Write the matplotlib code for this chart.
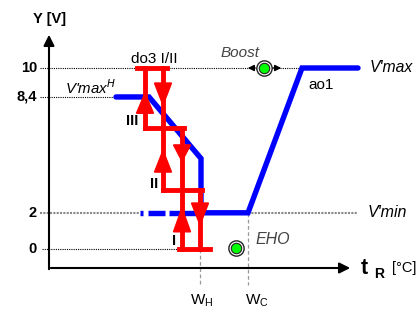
import numpy as np
import matplotlib.pyplot as plt
from matplotlib.patches import Polygon

plt.rcParams['font.family'] = ['Liberation Sans', 'DejaVu Sans']

# --- data (x: temperature axis units, y: volts) ---
w_h = 200
w_c = 248
v_max = 10
v_max_h = 8.4
v_min = 2

# blue characteristic ao1
heat_x = [116, 149, 201, 201]
heat_y = [8.4, 8.4, 5.0, 2.0]
dash_x = [[140, 143], [148, 165], [169, 201]]
cool_x = [201, 248, 302, 358]
cool_y = [2.0, 2.0, 10.0, 10.0]

# red stage switching do3 I/II (steps III, II, I)
red_segs = [
    ((137, 167), (10, 10)),
    ((145, 145), (10, 6.7)),
    ((163, 163), (10, 3.25)),
    ((145, 184), (6.7, 6.7)),
    ((182, 182), (6.7, 0)),
    ((163, 202), (3.25, 3.25)),
    ((200, 200), (3.25, 0)),
    ((179, 210), (0, 0)),
]
# (x, tip, base)
up_arrows = [(145, 8.62, 7.5), (163, 5.45, 4.25), (182, 2.27, 0.95)]
down_arrows = [(163, 7.95, 9.17), (182, 4.85, 5.75), (200, 1.33, 2.54)]

ticks = [10, 8.4, 2, 0]
tick_labels = ['10', '8,4', '2', '0']

fig = plt.figure(figsize=(4.2, 3.12), dpi=100)
ax = fig.add_axes([0, 0, 1, 1])
ax.set_xlim(0, 420)
ax.set_ylim((249 - 312) / 18.1, 249 / 18.1)
ax.axis('off')

def py(p):
    return (249 - p) / 18.1

# guide lines
dot = dict(color='black', lw=0.8, ls=(0, (1, 1)), zorder=1)
ax.plot([40, 300], [10, 10], **dot)
ax.plot([40, 116], [8.4, 8.4], **dot)
ax.plot([42, 180], [0, 0], **dot)
gdot = dict(color='#888888', lw=1.5, ls=(0, (1, 0.6)), zorder=1)
ax.plot([40, 140], [2, 2], **gdot)
ax.plot([248, 358], [2, 2], **gdot)
vdash = dict(color='#999999', lw=0.9, ls=(0, (3, 2)), zorder=1)
ax.plot([w_h, w_h], [0, py(285)], **vdash)
ax.plot([w_c, w_c], [2, py(285)], **vdash)

# axes with arrows
ax.annotate('', xy=(353, py(268)), xytext=(48, py(268)),
            arrowprops=dict(arrowstyle='-|>', color='black', lw=1.5, mutation_scale=16))
ax.annotate('', xy=(49, py(32)), xytext=(49, py(272)),
            arrowprops=dict(arrowstyle='-|>', color='black', lw=1.5, mutation_scale=16))

for t, lab in zip(ticks, tick_labels):
    ax.text(37, t, lab, ha='right', va='center', fontsize=10.5, fontweight='bold')

# blue curve
blue = '#0000ff'
ax.plot(heat_x, heat_y, color=blue, lw=3.9, solid_capstyle='round', solid_joinstyle='miter', zorder=2)
for seg in dash_x:
    ax.plot(seg, [v_min, v_min], color=blue, lw=3.9, solid_capstyle='butt', zorder=2)
ax.plot(cool_x, cool_y, color=blue, lw=3.9, solid_capstyle='round', solid_joinstyle='miter', zorder=2)

# red hysteresis steps
red = '#ff0000'
for xs, ys in red_segs:
    ax.plot(xs, ys, color=red, lw=3.5, solid_capstyle='projecting', zorder=3)
for x, tip, base in up_arrows + down_arrows:
    ax.add_patch(Polygon([(x - 8.5, base), (x + 8.5, base), (x, tip)], closed=True,
                         color=red, zorder=4))

# green markers
for x, y in [(264, v_max), (236, py(248))]:
    ax.plot(x, y, 'o', ms=11, mfc='white', mec='#222222', mew=1.0, zorder=5)
    ax.plot(x, y, 'o', ms=7.5, mfc='#00ff00', mec='#222222', mew=0.8, zorder=6)
ax.annotate('', xy=(245, v_max), xytext=(258, v_max),
            arrowprops=dict(arrowstyle='-|>', color='black', lw=1.0, mutation_scale=9))
ax.annotate('', xy=(284, v_max), xytext=(270, v_max),
            arrowprops=dict(arrowstyle='-|>', color='black', lw=1.0, mutation_scale=9))

# labels
ax.text(50, py(19), 'Y [V]', ha='center', va='center', fontsize=10.5, fontweight='bold')
ax.text(154, py(59), 'do3 I/II', ha='center', va='center', fontsize=11)
ax.text(65, py(88), r"V'max$^{\mathbf{\mathit{H}}}$", ha='left', va='center', fontsize=10.8, style='italic')
ax.text(138, py(121), 'III', ha='right', va='center', fontsize=10.5, fontweight='bold')
ax.text(158, py(184), 'II', ha='right', va='center', fontsize=10.5, fontweight='bold')
ax.text(176, py(241), 'I', ha='right', va='center', fontsize=10.5, fontweight='bold')
ax.text(240, py(53), 'Boost', ha='center', va='center', fontsize=11, style='italic', color='#444444')
ax.text(308, py(85), 'ao1', ha='left', va='center', fontsize=11)
ax.text(370, v_max, "V'max", ha='left', va='center', fontsize=11.3, style='italic')
ax.text(368, v_min, "V'min", ha='left', va='center', fontsize=11.5, style='italic')
ax.text(255, py(239), 'EHO', ha='left', va='center', fontsize=11.5, style='italic', color='#444444')
ax.text(361, py(268), 't', ha='left', va='center', fontsize=15.5, fontweight='bold')
ax.text(374, py(274), 'R', ha='left', va='center', fontsize=10, fontweight='bold')
ax.text(392, py(268), '[°C]', ha='left', va='center', fontsize=10.5)
ax.text(w_h + 2, py(301), r'W$_\mathregular{H}$', ha='center', va='center', fontsize=11)
ax.text(w_c + 9, py(301), r'W$_\mathregular{C}$', ha='center', va='center', fontsize=11)

fig.savefig('out.png', dpi=100)
